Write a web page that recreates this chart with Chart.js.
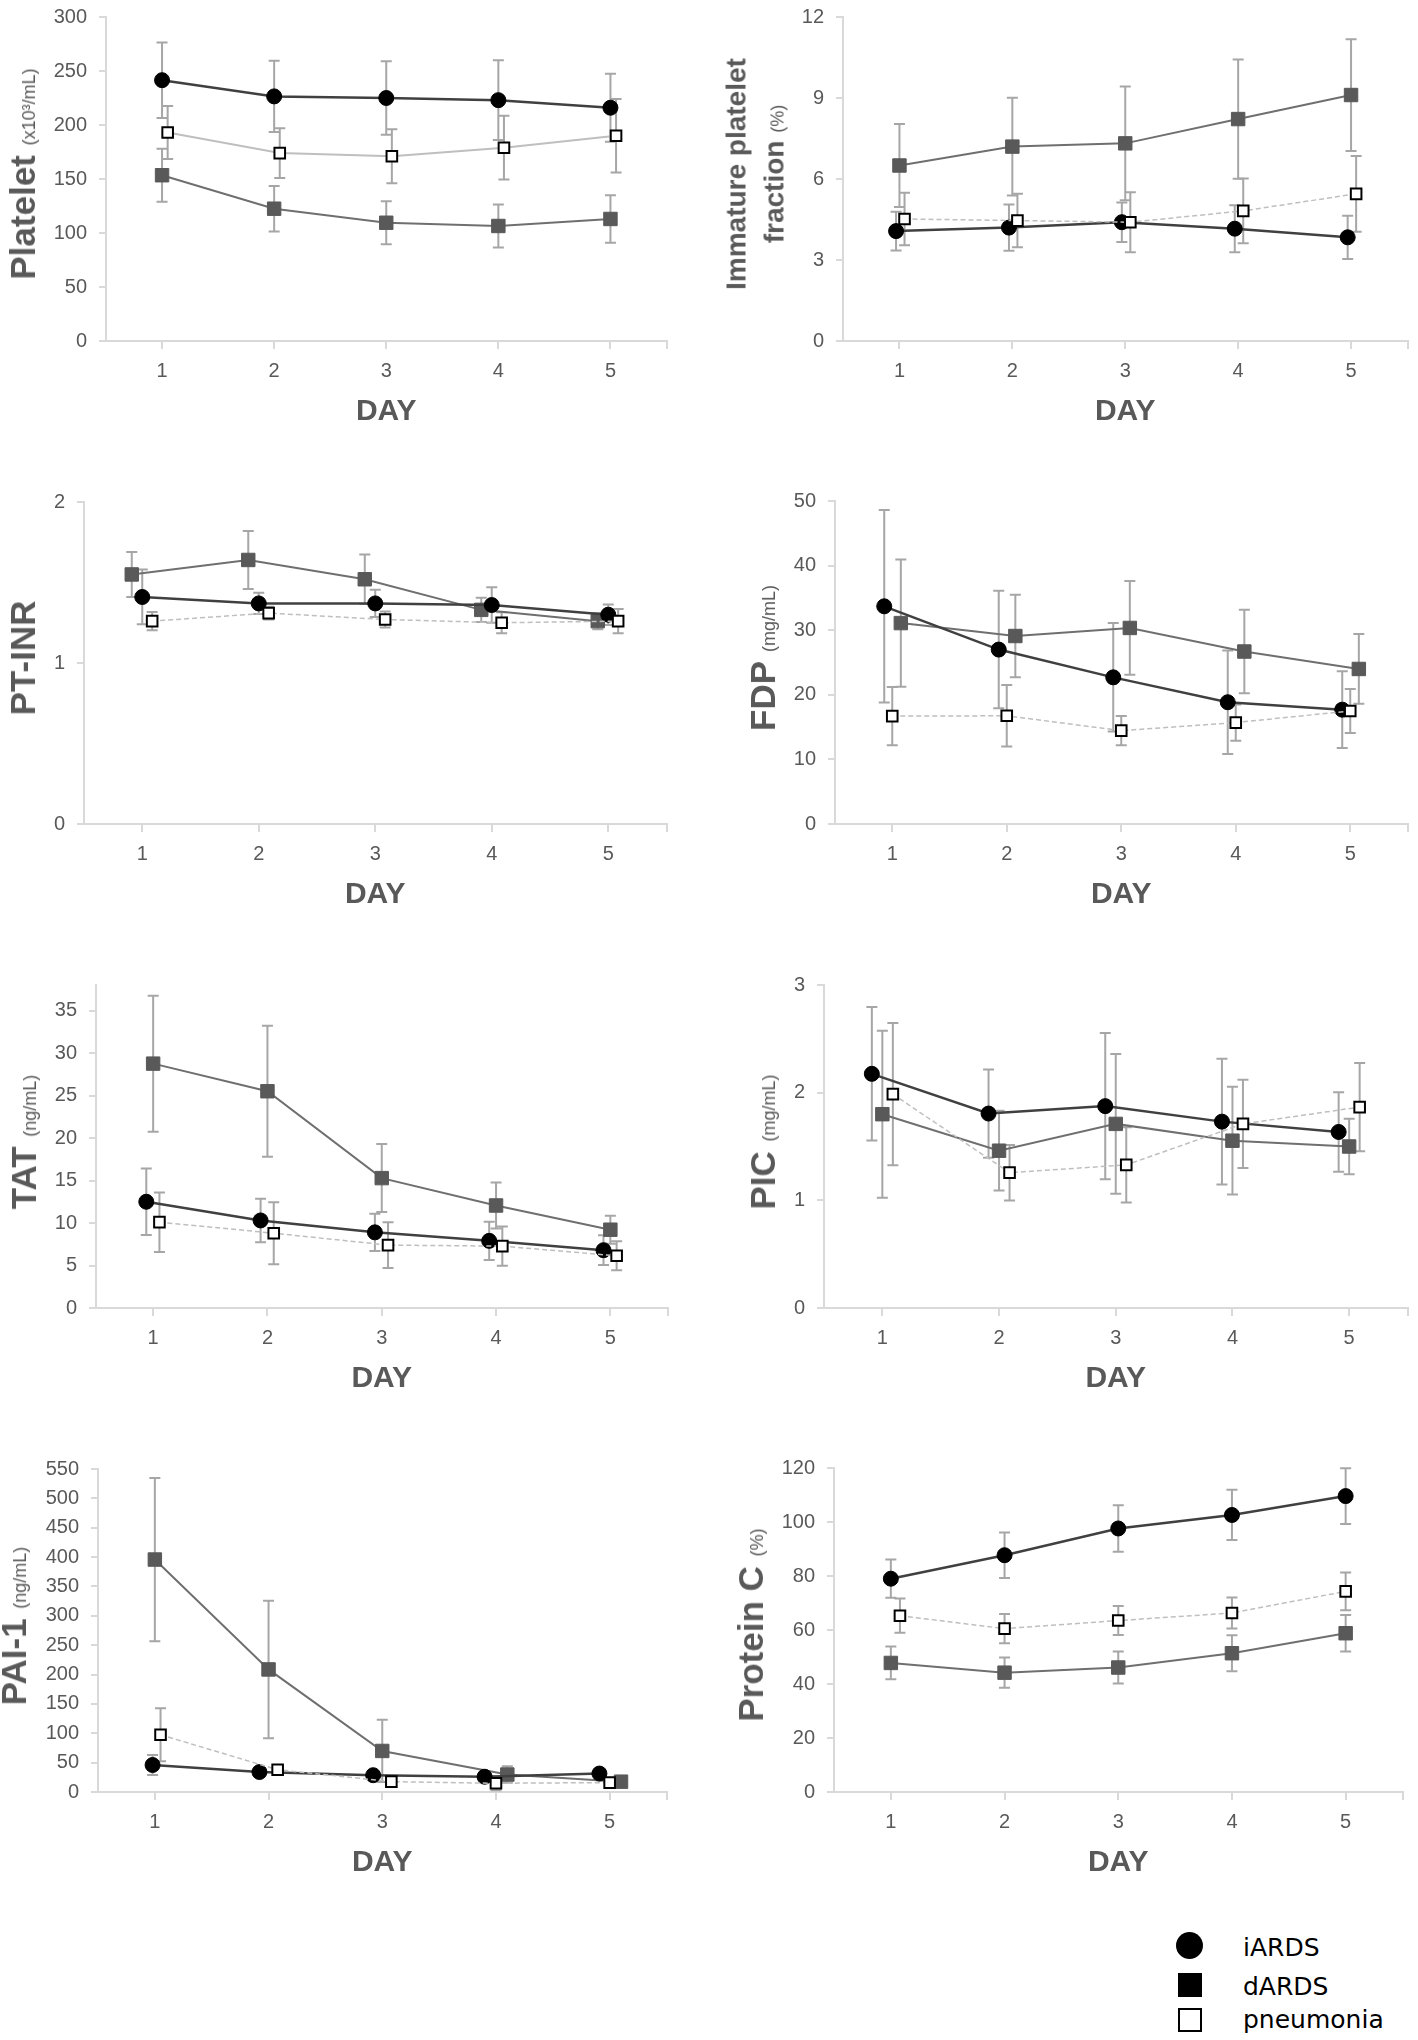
<!DOCTYPE html>
<html>
<head>
<meta charset="utf-8">
<title>Coagulation markers, day 1-5</title>
<script src="https://cdn.jsdelivr.net/npm/chart.js@4.4.1/dist/chart.umd.min.js"></script>
<style>
  html, body { margin: 0; padding: 0; background: #fff; }
  body { width: 1418px; height: 2040px; position: relative; overflow: hidden; }
  canvas { position: absolute; }
  .ytitle {
    position: absolute;
    transform: translate(-50%, -50%) rotate(-90deg);
    white-space: nowrap;
    line-height: 1;
    text-align: center;
    color: #595959;
    font: bold 35px 'Liberation Sans', Arial, sans-serif;
  }
  .ytitle small { font-weight: normal; font-size: 18px; }
  .ytitle.two { font-size: 28px; line-height: 38px; }
  .lg { position: absolute; }
  .lg-text { position: absolute; font: 25px 'DejaVu Sans', sans-serif; line-height: 1; color: #000; white-space: nowrap; }
</style>
</head>
<body>

<script>
/* values: mean and error bar (sd) per day */
var days = ['1', '2', '3', '4', '5'];
var groups = ['iARDS', 'dARDS', 'pneumonia'];

// Platelet (x10^3/mL)
var plateletTicks = [0, 50, 100, 150, 200, 250, 300];
var plateletIards = [241.5, 226.5, 225, 223, 216];
var plateletIardsSd = [35, 33, 34, 37, 31.5];
var plateletDards = [153.5, 122.5, 109.5, 106.5, 113];
var plateletDardsSd = [24.5, 21, 20, 20, 22];
var plateletPneu = [193, 174, 171, 179, 190];
var plateletPneuSd = [24.5, 23, 25, 29.5, 34];

// Immature platelet fraction (%)
var ipfTicks = [0, 3, 6, 9, 12];
var ipfIards = [4.07, 4.2, 4.4, 4.16, 3.84];
var ipfIardsSd = [0.72, 0.86, 0.73, 0.87, 0.8];
var ipfDards = [6.5, 7.2, 7.32, 8.22, 9.11];
var ipfDardsSd = [1.54, 1.81, 2.11, 2.21, 2.07];
var ipfPneu = [4.52, 4.46, 4.4, 4.82, 5.45];
var ipfPneuSd = [0.97, 0.99, 1.11, 1.2, 1.4];

// PT-INR
var inrTicks = [0, 1, 2];
var inrIards = [1.41, 1.37, 1.37, 1.36, 1.30];
var inrIardsSd = [0.17, 0.066, 0.085, 0.11, 0.064];
var inrDards = [1.55, 1.64, 1.52, 1.33, 1.26];
var inrDardsSd = [0.14, 0.18, 0.154, 0.075, 0.05];
var inrPneu = [1.26, 1.31, 1.27, 1.25, 1.26];
var inrPneuSd = [0.057, 0.04, 0.05, 0.065, 0.075];

// FDP (mg/mL)
var fdpTicks = [0, 10, 20, 30, 40, 50];
var fdpIards = [33.7, 27.0, 22.7, 18.85, 17.7];
var fdpIardsSd = [14.9, 9.1, 8.4, 8.0, 5.95];
var fdpDards = [31.1, 29.1, 30.35, 26.7, 24.0];
var fdpDardsSd = [9.85, 6.4, 7.25, 6.45, 5.4];
var fdpPneu = [16.7, 16.75, 14.45, 15.7, 17.5];
var fdpPneuSd = [4.5, 4.75, 2.25, 2.8, 3.4];

// TAT (ng/mL)
var tatTicks = [0, 5, 10, 15, 20, 25, 30, 35];
var tatIards = [12.5, 10.3, 8.9, 7.9, 6.8];
var tatIardsSd = [3.9, 2.55, 2.2, 2.25, 1.75];
var tatDards = [28.75, 25.5, 15.28, 12.06, 9.21];
var tatDardsSd = [8.0, 7.7, 4.0, 2.7, 1.65];
var tatPneu = [10.1, 8.8, 7.4, 7.28, 6.14];
var tatPneuSd = [3.5, 3.65, 2.7, 2.3, 1.7];

// PIC (mg/mL)
var picTicks = [0, 1, 2, 3];
var picIards = [2.175, 1.806, 1.875, 1.731, 1.635];
var picIardsSd = [0.62, 0.41, 0.68, 0.585, 0.37];
var picDards = [1.8, 1.461, 1.71, 1.554, 1.5];
var picDardsSd = [0.775, 0.37, 0.65, 0.5, 0.258];
var picPneu = [1.986, 1.257, 1.329, 1.71, 1.866];
var picPneuSd = [0.66, 0.258, 0.35, 0.41, 0.41];

// PAI-1 (ng/mL)
var paiTicks = [0, 50, 100, 150, 200, 250, 300, 350, 400, 450, 500, 550];
var paiIards = [46, 34, 28.6, 26, 31.4];
var paiIardsSd = [17, 5, 5, 8, 5];
var paiDards = [395.8, 208.7, 69.9, 29.7, 17.6];
var paiDardsSd = [139, 117, 53, 14, 5];
var paiPneu = [97.4, 38, 17.6, 14.9, 16];
var paiPneuSd = [45, 7, 6, 12, 5];

// Protein C (%)
var pcTicks = [0, 20, 40, 60, 80, 100, 120];
var pcIards = [79, 87.7, 97.6, 102.6, 109.6];
var pcIardsSd = [7.1, 8.4, 8.65, 9.3, 10.35];
var pcDards = [47.8, 44.2, 46.1, 51.4, 58.8];
var pcDardsSd = [6.05, 5.6, 5.9, 6.65, 6.8];
var pcPneu = [65.3, 60.5, 63.5, 66.3, 74.3];
var pcPneuSd = [6.35, 5.45, 5.35, 5.7, 7];

/* look of the three groups */
var tickFont = "'Liberation Sans', Arial, sans-serif";
var dayFont = "'Liberation Sans Narrow', 'Liberation Sans', Arial, sans-serif";
var styles = {
  iARDS: { line: '#404040', width: 2.5, dash: [], point: 'circle', radius: 7.5, fill: '#000000', edge: '#000000', edgeWidth: 1, order: 1 },
  dARDS: { line: '#6f6f6f', width: 2, dash: [], point: 'rect', radius: 9.5, fill: '#595959', edge: '#595959', edgeWidth: 1, order: 2 },
  pneumonia: { line: '#bfbfbf', width: 1.5, dash: [5, 3], point: 'rect', radius: 7.5, fill: '#ffffff', edge: '#000000', edgeWidth: 2, order: 0 }
};

/* panels: plot box on the page (left, top, bottom, right), small horizontal dodge per group */
var panels = [
  { title: 'Platelet', sub: '(x10³/mL)', tcx: 22.8, left: 106, top: 7, bottom: 341, right: 676, ticks: plateletTicks, max: 300,
    series: [[plateletIards, plateletIardsSd], [plateletDards, plateletDardsSd], [plateletPneu, plateletPneuSd]],
    dodge: [0, 0, 0.05], solidPneu: true },
  { title: 'Immature platelet', title2: 'fraction', sub: '(%)', tcx: 757, left: 843, top: 7, bottom: 341, right: 1417, ticks: ipfTicks, max: 12,
    series: [[ipfIards, ipfIardsSd], [ipfDards, ipfDardsSd], [ipfPneu, ipfPneuSd]],
    dodge: [-0.03, 0, 0.045] },
  { title: 'PT-INR', sub: '', tcx: 23.2, left: 84, top: 492, bottom: 824, right: 676, ticks: inrTicks, max: 2,
    series: [[inrIards, inrIardsSd], [inrDards, inrDardsSd], [inrPneu, inrPneuSd]],
    dodge: [0, -0.09, 0.085] },
  { title: 'FDP', sub: '(mg/mL)', tcx: 763.4, left: 835, top: 491, bottom: 824, right: 1417, ticks: fdpTicks, max: 50,
    series: [[fdpIards, fdpIardsSd], [fdpDards, fdpDardsSd], [fdpPneu, fdpPneuSd]],
    dodge: [-0.07, 0.075, 0] },
  { title: 'TAT', sub: '(ng/mL)', tcx: 23.6, left: 96, top: 975, bottom: 1308, right: 677, ticks: tatTicks, max: 38,
    series: [[tatIards, tatIardsSd], [tatDards, tatDardsSd], [tatPneu, tatPneuSd]],
    dodge: [-0.06, 0, 0.055] },
  { title: 'PIC', sub: '(mg/mL)', tcx: 763.4, left: 824, top: 975, bottom: 1308, right: 1417, ticks: picTicks, max: 3,
    series: [[picIards, picIardsSd], [picDards, picDardsSd], [picPneu, picPneuSd]],
    dodge: [-0.09, 0, 0.09] },
  { title: 'PAI-1', sub: '(ng/mL)', tcx: 14.2, left: 98, top: 1459, bottom: 1792, right: 676, ticks: paiTicks, max: 550,
    series: [[paiIards, paiIardsSd], [paiDards, paiDardsSd], [paiPneu, paiPneuSd]],
    dodge: [[-0.02, -0.08, -0.08, -0.1, -0.09], [0, 0, 0, 0.1, 0.1], [0.05, 0.08, 0.08, 0, 0]] },
  { title: 'Protein C', sub: '(%)', tcx: 751.2, left: 834, top: 1458, bottom: 1792, right: 1412, ticks: pcTicks, max: 120,
    series: [[pcIards, pcIardsSd], [pcDards, pcDardsSd], [pcPneu, pcPneuSd]],
    dodge: [0, 0, [0.08, 0, 0, 0, 0]] }
];

// vertical error bars with caps, under the lines
var errorBars = {
  id: 'errorBars',
  beforeDatasetsDraw: function (chart) {
    var ctx = chart.ctx, x = chart.scales.x, y = chart.scales.y;
    ctx.save();
    ctx.strokeStyle = '#a6a6a6';
    ctx.lineWidth = 2;
    chart.data.datasets.forEach(function (ds) {
      ds.data.forEach(function (pt) {
        var px = x.getPixelForValue(pt.x);
        var y1 = y.getPixelForValue(pt.y + pt.sd);
        var y2 = y.getPixelForValue(pt.y - pt.sd);
        ctx.beginPath();
        ctx.moveTo(px, y1); ctx.lineTo(px, y2);
        ctx.moveTo(px - 5.5, y1); ctx.lineTo(px + 5.5, y1);
        ctx.moveTo(px - 5.5, y2); ctx.lineTo(px + 5.5, y2);
        ctx.stroke();
      });
    });
    ctx.restore();
  }
};

function points(vals, sd, dodge) {
  return vals.map(function (v, i) {
    var d = Array.isArray(dodge) ? dodge[i] : dodge;
    return { x: i + 1 + d, y: v, sd: sd[i] };
  });
}

function addTitle(p) {
  var el = document.createElement('div');
  el.className = 'ytitle';
  if (p.title2) {
    el.className += ' two';
    el.innerHTML = p.title + '<br>' + p.title2 + ' <small>' + p.sub + '</small>';
  } else {
    el.innerHTML = p.title + (p.sub ? ' <small>' + p.sub + '</small>' : '');
  }
  el.style.left = p.tcx + 'px';
  el.style.top = ((p.top + p.bottom) / 2) + 'px';
  document.body.appendChild(el);
}

function makePanel(p) {
  var Yw = 70, Xh = 100, padT = 14, padR = 1;
  var w = Yw + (p.right - p.left) + padR;
  var h = padT + (p.bottom - p.top) + Xh;
  var canvas = document.createElement('canvas');
  canvas.width = w;
  canvas.height = h;
  canvas.style.left = (p.left - Yw) + 'px';
  canvas.style.top = (p.top - padT) + 'px';
  canvas.style.width = w + 'px';
  canvas.style.height = h + 'px';
  document.body.appendChild(canvas);

  var datasets = groups.map(function (g, k) {
    var s = styles[g];
    var solid = g === 'pneumonia' && p.solidPneu;
    return {
      label: g,
      data: points(p.series[k][0], p.series[k][1], p.dodge[k]),
      borderColor: s.line,
      borderWidth: solid ? 2 : s.width,
      borderDash: solid ? [] : s.dash,
      pointStyle: s.point,
      pointRadius: s.radius,
      pointBackgroundColor: s.fill,
      pointBorderColor: s.edge,
      pointBorderWidth: s.edgeWidth,
      tension: 0,
      fill: false,
      order: s.order
    };
  });

  new Chart(canvas, {
    type: 'line',
    data: { datasets: datasets },
    options: {
      responsive: false,
      animation: false,
      devicePixelRatio: 1,
      layout: { padding: { top: padT, right: padR, left: 0, bottom: 0 } },
      plugins: { legend: { display: false }, tooltip: { enabled: false } },
      scales: {
        x: {
          type: 'linear',
          min: 0.5,
          max: days.length + 0.5,
          afterBuildTicks: function (s) {
            s.ticks = days.map(function (d, i) { return { value: i + 1 }; }).concat([{ value: days.length + 0.5 }]);
          },
          afterFit: function (s) { s.height = Xh; },
          grid: { drawOnChartArea: false, drawTicks: true, tickLength: 8, color: '#d9d9d9', lineWidth: 2 },
          border: { color: '#d9d9d9', width: 2 },
          ticks: {
            autoSkip: false, maxRotation: 0, padding: 10, color: '#595959',
            font: { family: tickFont, size: 20 },
            callback: function (v) { return Number.isInteger(v) ? days[v - 1] : ''; }
          },
          title: {
            display: true, text: 'DAY', color: '#595959',
            font: { family: dayFont, size: 30, weight: 'bold' },
            padding: { top: 0, bottom: 11 }
          }
        },
        y: {
          type: 'linear',
          min: 0,
          max: p.max,
          afterBuildTicks: function (s) {
            s.ticks = p.ticks.map(function (v) { return { value: v }; });
          },
          afterFit: function (s) { s.width = Yw; },
          grid: { drawOnChartArea: false, drawTicks: true, tickLength: 7, color: '#d9d9d9', lineWidth: 2 },
          border: { color: '#d9d9d9', width: 2 },
          ticks: { padding: 12, color: '#595959', font: { family: tickFont, size: 20 } }
        }
      }
    },
    plugins: [errorBars]
  });

  addTitle(p);
}

panels.forEach(makePanel);

// shared legend, bottom right
var legendRows = [
  { text: groups[0], top: 1935, mark: 'left:1176px;top:1932px;width:27px;height:27px;border-radius:50%;background:#000;' },
  { text: groups[1], top: 1974, mark: 'left:1178px;top:1973px;width:24px;height:24px;background:#000;' },
  { text: groups[2], top: 2007, mark: 'left:1178px;top:2008px;width:20px;height:20px;border:2px solid #000;background:#fff;' }
];
legendRows.forEach(function (r) {
  var m = document.createElement('div');
  m.className = 'lg';
  m.style.cssText = m.style.cssText + r.mark;
  document.body.appendChild(m);
  var t = document.createElement('div');
  t.className = 'lg-text';
  t.style.left = '1243px';
  t.style.top = r.top + 'px';
  t.textContent = r.text;
  document.body.appendChild(t);
});
</script>
</body>
</html>
